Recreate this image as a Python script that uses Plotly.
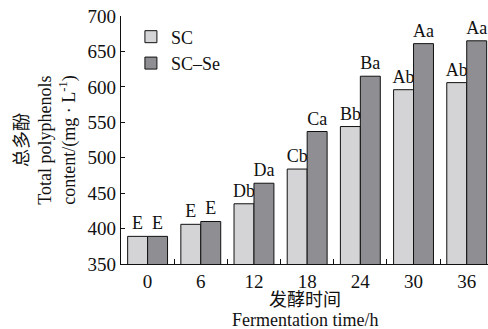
import plotly.graph_objects as go

# Fermentation time points (h) and total polyphenol content (mg/L)
times = ["0", "6", "12", "18", "24", "30", "36"]
sc_values = [389, 406, 435, 484, 544, 596, 606]
scse_values = [389, 410, 464, 537, 615, 661, 665]
sc_letters = ["E", "E", "Db", "Cb", "Bb", "Ab", "Ab"]
scse_letters = ["E", "E", "Da", "Ca", "Ba", "Aa", "Aa"]
y_ticks = [350, 400, 450, 500, 550, 600, 650, 700]

FONT = "'Liberation Serif', 'Noto Sans CJK SC', serif"
x_pos = list(range(len(times)))

fig = go.Figure()
fig.add_trace(go.Bar(
    x=x_pos, y=sc_values, name="SC",
    marker=dict(color="#d4d4d6", line=dict(color="#111111", width=1)),
    text=sc_letters, textposition="outside", constraintext="none",
    textfont=dict(family=FONT, size=18, color="#111111"), cliponaxis=False,
))
fig.add_trace(go.Bar(
    x=x_pos, y=scse_values, name="SC\u2013Se",
    marker=dict(color="#8f8f93", line=dict(color="#111111", width=1)),
    text=scse_letters, textposition="outside", constraintext="none",
    textfont=dict(family=FONT, size=18, color="#111111"), cliponaxis=False,
))

fig.update_layout(
    width=488, height=329,
    margin=dict(l=121, r=0, t=16, b=65),
    paper_bgcolor="white", plot_bgcolor="white",
    barmode="group", bargap=0.25, bargroupgap=0,
    font=dict(family=FONT, size=18, color="#111111"),
    showlegend=True,
    legend=dict(x=0.027, y=0.99, xanchor="left", yanchor="top",
                bgcolor="rgba(0,0,0,0)", font=dict(family=FONT, size=18),
                tracegroupgap=0),
    xaxis=dict(
        range=[-0.5, 6.4], tickvals=x_pos, ticktext=times,
        showline=True, linecolor="#111111", linewidth=1.3,
        ticks="", showgrid=False, zeroline=False,
        tickfont=dict(family=FONT, size=19),
        minor=dict(tickvals=[i + 0.5 for i in x_pos[:-1]], ticks="inside",
                   ticklen=5, tickcolor="#111111", tickwidth=1, showgrid=False),
    ),
    yaxis=dict(
        range=[350, 700], tickvals=y_ticks,
        showline=True, linecolor="#111111", linewidth=1.3,
        ticks="inside", ticklen=4, tickcolor="#111111", tickwidth=1,
        showgrid=False, zeroline=False, tickfont=dict(family=FONT, size=19),
    ),
    annotations=[
        dict(text="总多酚<br>Total polyphenols<br>content/(mg · L<sup>-1</sup>)",
             textangle=-90, xref="paper", yref="paper", x=-0.205, y=0.5,
             xanchor="center", yanchor="middle", showarrow=False,
             font=dict(family=FONT, size=18)),
        dict(text="发酵时间",
             xref="paper", yref="paper", x=0.5, y=-0.146,
             xanchor="center", yanchor="middle", showarrow=False,
             font=dict(family=FONT, size=18)),
        dict(text="Fermentation time/h",
             xref="paper", yref="paper", x=0.5, y=-0.224,
             xanchor="center", yanchor="middle", showarrow=False,
             font=dict(family=FONT, size=18)),
    ],
)

fig.write_html("out.html")
